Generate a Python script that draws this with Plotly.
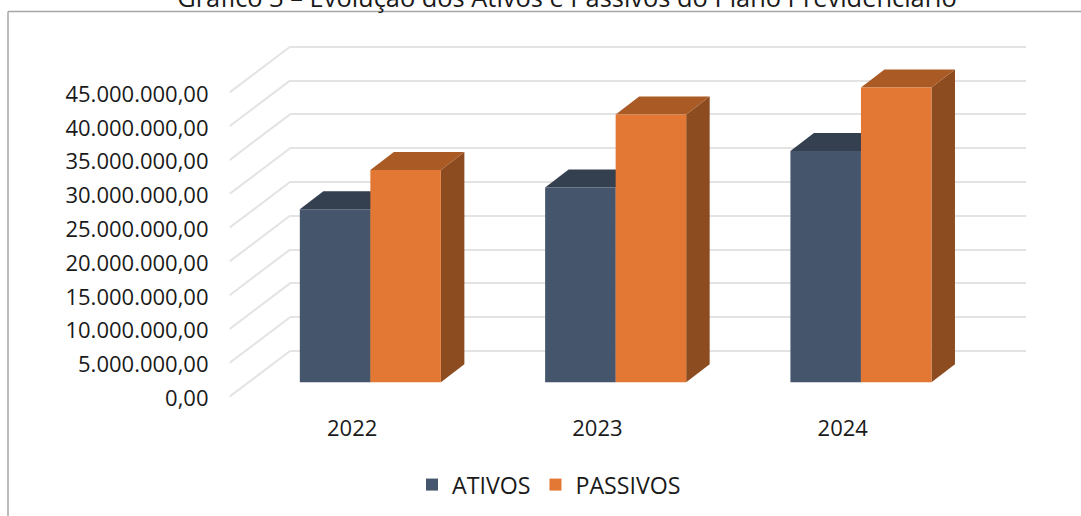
import plotly.graph_objects as go

# ---- data -------------------------------------------------------------
years = ["2022", "2023", "2024"]
ativos = [25600000, 28800000, 34200000]
passivos = [31400000, 39600000, 43600000]
tick_values = [0, 5000000, 10000000, 15000000, 20000000, 25000000,
               30000000, 35000000, 40000000, 45000000]
title_text = "Gráfico 3 – Evolução dos Ativos e Passivos do Plano Previdenciário"

# ---- geometry / style ---------------------------------------------------
W, H = 1081, 516
FONT = "Open Sans"
TXT = "#1a1a1a"
GRID = "#e3e3e3"
NAVY, NAVY_TOP, NAVY_SIDE = "#45556C", "#343F50", "#2F3A49"
ORANGE, ORANGE_TOP, ORANGE_SIDE = "#E27834", "#AA5A25", "#8C4C20"
BAR_W = 0.2875                      # bar width in category units
CAT_PX = 245.3                      # pixels per category
STEP_PX = 33.8                      # pixels per 5 million
STEP = 5000000
VAL_PER_PX = STEP / STEP_PX
POS = [0, 1, 2]
XR = [-0.5, 2.5]


def xdom(left):
    return [left / W, (left + 3 * CAT_PX) / W]


def yaxis_span(zero_px, ymin, ymax):
    """Domain and range placing value 0 at pixel zero_px on a fixed value scale."""
    bottom = zero_px + (-ymin) / VAL_PER_PX
    top = zero_px - ymax / VAL_PER_PX
    return dict(domain=[1 - bottom / H, 1 - top / H], range=[ymin, ymax])


HIDDEN = dict(visible=False, fixedrange=True, automargin=False)

fig = go.Figure()

# back wall subplot needs a trace so its gridlines are drawn
fig.add_trace(go.Scatter(x=POS, y=[None] * 3, xaxis="x", yaxis="y", mode="lines",
                         showlegend=False, hoverinfo="skip"))

# side walls: one diagonal per gridline, from the front plane to the back wall
WALL_DX, WALL_DY = 60.5 / CAT_PX, 45.7 * VAL_PER_PX
dx_, dy_ = [], []
for v in tick_values:
    dx_ += [XR[0], XR[0] + WALL_DX, None]
    dy_ += [v, v + WALL_DY, None]
fig.add_trace(go.Scatter(x=dx_, y=dy_, xaxis="x2", yaxis="y2", mode="lines",
                         line=dict(color=GRID, width=2), cliponaxis=False,
                         showlegend=False, hoverinfo="skip"))

# bar depth faces, drawn under the front faces
DEPTH_DX, DEPTH_DY = 23.5 / CAT_PX, 18 * VAL_PER_PX


def depth_faces(values, offset, top_col, side_col):
    for i, v in zip(POS, values):
        x0, x1 = i + offset, i + offset + BAR_W
        fig.add_trace(go.Scatter(
            x=[x1, x1 + DEPTH_DX, x1 + DEPTH_DX, x1, x1],
            y=[0, DEPTH_DY, v + DEPTH_DY, v, 0],
            xaxis="x3", yaxis="y3", mode="lines", fill="toself", fillcolor=side_col,
            line=dict(width=0), cliponaxis=False, showlegend=False, hoverinfo="skip"))
        fig.add_trace(go.Scatter(
            x=[x0, x0 + DEPTH_DX, x1 + DEPTH_DX, x1, x0],
            y=[v, v + DEPTH_DY, v + DEPTH_DY, v, v],
            xaxis="x3", yaxis="y3", mode="lines", fill="toself", fillcolor=top_col,
            line=dict(width=0), cliponaxis=False, showlegend=False, hoverinfo="skip"))


depth_faces(ativos, -BAR_W, NAVY_TOP, NAVY_SIDE)
depth_faces(passivos, 0, ORANGE_TOP, ORANGE_SIDE)

# front faces
fig.add_trace(go.Bar(x=POS, y=ativos, name="ATIVOS", xaxis="x4", yaxis="y4",
                     marker=dict(color=NAVY, line=dict(width=0)), cliponaxis=False))
fig.add_trace(go.Bar(x=POS, y=passivos, name="PASSIVOS", xaxis="x4", yaxis="y4",
                     marker=dict(color=ORANGE, line=dict(width=0)), cliponaxis=False))

# labelled axes live on their own subplot
fig.add_trace(go.Scatter(x=POS, y=[None] * 3, xaxis="x5", yaxis="y5", mode="lines",
                         showlegend=False, hoverinfo="skip"))

fig.update_layout(
    width=W, height=H,
    margin=dict(l=0, r=0, t=0, b=0),
    paper_bgcolor="white", plot_bgcolor="rgba(0,0,0,0)",
    separators=",.",
    font=dict(family=FONT, size=22, color=TXT),
    title=dict(text=title_text, x=567 / W, xanchor="center", y=1 - 7 / H, yanchor="bottom",
               font=dict(family=FONT, size=25.4, color=TXT)),
    barmode="group", bargap=0.425, bargroupgap=0,
    showlegend=True,
    legend=dict(orientation="h", x=412 / W, xanchor="left", y=1 - 485 / H, yanchor="middle",
                font=dict(family=FONT, size=23.2, color=TXT), bgcolor="rgba(0,0,0,0)",
                traceorder="normal", itemclick=False, itemdoubleclick=False),
    # back wall gridlines
    xaxis=dict(domain=xdom(290), range=XR, **HIDDEN),
    yaxis=dict(anchor="x", tickvals=tick_values,
               showgrid=True, gridcolor=GRID, gridwidth=2, zeroline=False, automargin=False,
               showticklabels=False, ticks="", showline=False, fixedrange=True,
               **yaxis_span(351, -STEP, 50000000)),
    # side wall diagonals
    xaxis2=dict(domain=xdom(229.5), range=XR, anchor="y2", **HIDDEN),
    yaxis2=dict(anchor="x2", **yaxis_span(396.7, -STEP, 55000000), **HIDDEN),
    # bars
    xaxis3=dict(domain=xdom(247.7), range=XR, anchor="y3", **HIDDEN),
    yaxis3=dict(anchor="x3", **yaxis_span(382.3, -STEP, 55000000), **HIDDEN),
    xaxis4=dict(domain=xdom(247.7), range=XR, anchor="y4", **HIDDEN),
    yaxis4=dict(anchor="x4", **yaxis_span(382.3, -STEP, 55000000), **HIDDEN),
    # front plane: the labelled axes
    xaxis5=dict(domain=xdom(229.5), range=XR, anchor="y5", tickvals=POS, ticktext=years,
                showgrid=False, zeroline=False, showline=False, ticks="", automargin=False,
                ticklabelstandoff=15, fixedrange=True),
    yaxis5=dict(anchor="x5", tickvals=tick_values, tickformat=",.2f",
                showgrid=False, zeroline=False, showline=False,
                ticks="", ticklabelstandoff=20, fixedrange=True, automargin=False,
                **yaxis_span(398.2, 0, 45000000)),
    shapes=[
        dict(type="line", xref="paper", yref="paper", x0=8 / W, x1=8 / W, y0=0, y1=1 - 11.5 / H,
             line=dict(color="#a6a6a6", width=1.5)),
        dict(type="line", xref="paper", yref="paper", x0=8 / W, x1=1, y0=1 - 11.5 / H, y1=1 - 11.5 / H,
             line=dict(color="#a6a6a6", width=1.5)),
    ],
)

fig.write_html("out.html", config={"displayModeBar": False},
               post_script="document.body.style.margin='0';document.documentElement.style.overflow='hidden';")
